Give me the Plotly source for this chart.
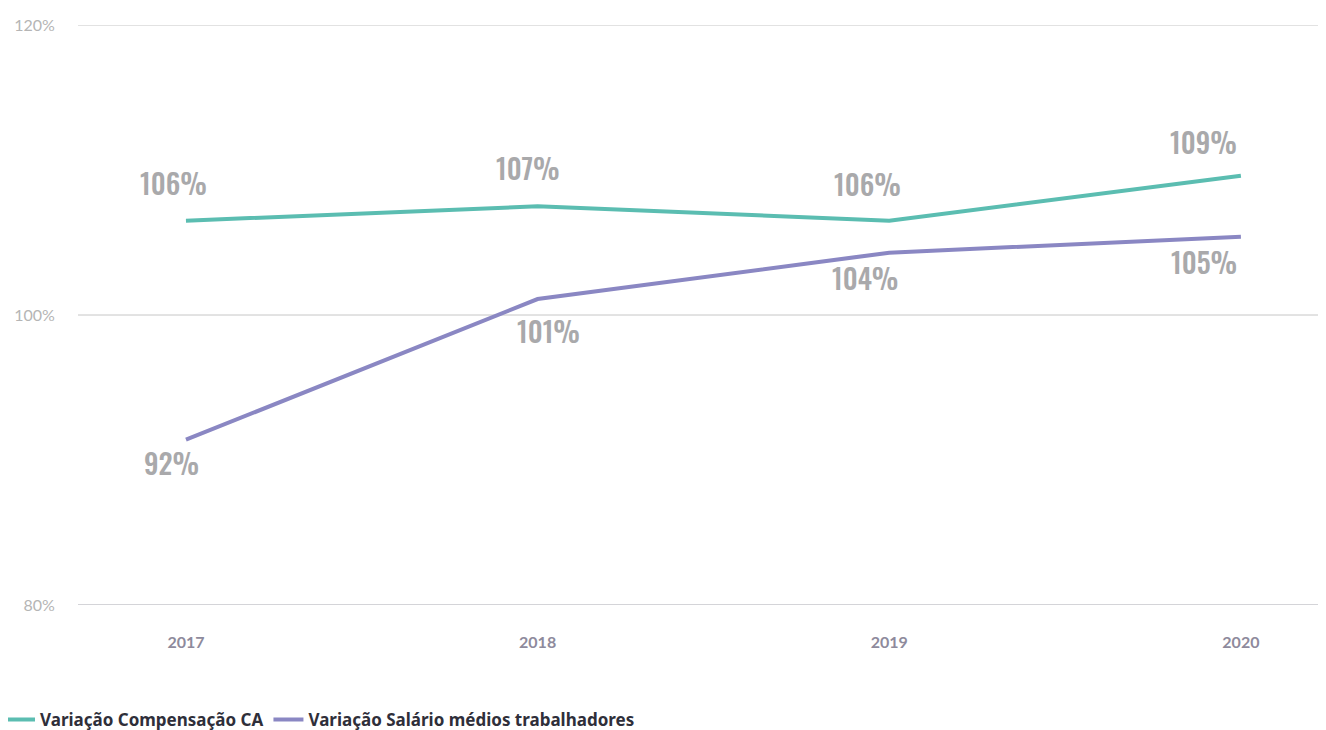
import plotly.graph_objects as go

years = ["2017", "2018", "2019", "2020"]
compensacao_ca = [106.5, 107.5, 106.5, 109.6]
salario_medio = [91.4, 101.1, 104.3, 105.4]
compensacao_labels = ["106%", "107%", "106%", "109%"]
salario_labels = ["92%", "101%", "104%", "105%"]
y_ticks = [80, 100, 120]
y_tick_labels = ["80%", "100%", "120%"]

teal = "#5bbdb1"
purple = "#8a87c3"
label_color = "#a9a9ab"

x_idx = list(range(len(years)))

fig = go.Figure()
fig.add_trace(go.Scatter(x=x_idx, y=compensacao_ca, mode="lines", name="Variação Compensação CA",
                         line=dict(color=teal, width=4), hoverinfo="skip"))
fig.add_trace(go.Scatter(x=x_idx, y=salario_medio, mode="lines", name="Variação Salário médios trabalhadores",
                         line=dict(color=purple, width=4), hoverinfo="skip"))

for yv in y_ticks:
    fig.add_shape(type="line", xref="paper", x0=0, x1=1, yref="y", y0=yv, y1=yv,
                  line=dict(color="#a9a9b0" if yv == y_ticks[0] else "#c6c6c6", width=1), layer="below")

label_font = dict(family="Oswald, DejaVu Sans Condensed, sans-serif",
                  size=28, color=label_color, weight=500)
top_dx = [-12, -10, -22, -37]
top_dy = [38, 39, 37, 34]
bot_dx = [-14, 11, -24, -37]
bot_dy = [-23, -31, -25, -25]
for i in x_idx:
    fig.add_annotation(x=i, y=compensacao_ca[i], text=compensacao_labels[i], showarrow=False,
                       xshift=top_dx[i], yshift=top_dy[i], font=label_font)
    fig.add_annotation(x=i, y=salario_medio[i], text=salario_labels[i], showarrow=False,
                       xshift=bot_dx[i], yshift=bot_dy[i], font=label_font)

fig.update_layout(
    width=1318, height=722,
    margin=dict(l=70, r=0, t=17, b=125, autoexpand=False),
    plot_bgcolor="white", paper_bgcolor="white",
    showlegend=True,
    legend=dict(orientation="h", x=-0.0625, xanchor="left", y=-0.198, yanchor="middle",
                font=dict(family="Noto Sans, sans-serif", size=17, color="#2f2f3a", weight="bold"),
                itemwidth=30, tracegroupgap=0),
    xaxis=dict(range=[-0.307, 3.242], tickmode="array", tickvals=x_idx, ticktext=years,
               showgrid=False, zeroline=False, showline=False, automargin=False,
               ticks="outside", ticklen=23, tickcolor="rgba(0,0,0,0)",
               tickfont=dict(family="Lato, sans-serif", size=16, color="#8e8a9c", weight="bold")),
    yaxis=dict(range=[80, 120], tickmode="array", tickvals=y_ticks, ticktext=y_tick_labels,
               showgrid=False, zeroline=False, showline=False, automargin=False,
               ticks="outside", ticklen=19, tickcolor="rgba(0,0,0,0)",
               tickfont=dict(family="Lato, sans-serif", size=16, color="#b5b5b5")),
)

fig.write_html("out.html")
